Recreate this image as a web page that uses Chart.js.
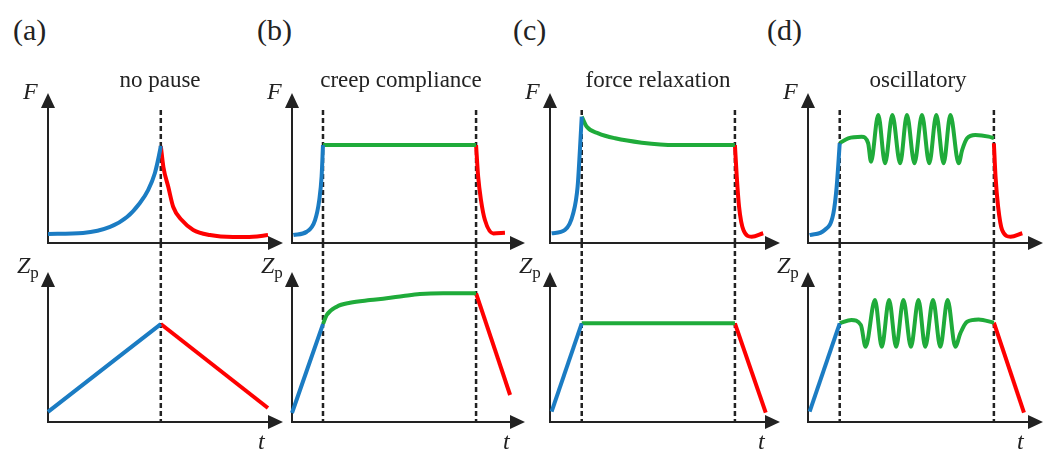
<!DOCTYPE html>
<html lang="en">
<head>
  <meta charset="UTF-8">
  <title>Force and indentation protocols</title>
  <style>
    body {
      margin: 0;
      background: white;
    }
    #fig {
      position: relative;
      width: 1051px;
      height: 451px;
      font-family: "Liberation Serif", serif;
      color: #222;
      overflow: hidden;
    }
    canvas {
      position: absolute;
    }
    .lbl {
      position: absolute;
      white-space: nowrap;
      line-height: 1;
    }
  </style>
</head>
<body>
  <div id="fig"></div>

  <script src="https://cdn.jsdelivr.net/npm/chart.js"></script>
  <script>
    // (a) no pause  -- [t, value] pairs, t and values in arbitrary units 0..100
    const aForceUp = [[0, 6], [14.9, 6.7], [26.4, 10.7], [33.6, 17.3], [39.1, 26.7], [42.6, 35.3], [45.5, 46.7], [47.7, 62], [48, 64.7]];
    const aForceDown = [[48, 64.7], [49.1, 50.7], [51.2, 37.3], [53.3, 24], [56.9, 15.3], [61.8, 8.7], [68.9, 5.3], [78.7, 4], [87.2, 4.2], [93.6, 5.3]];
    const aZpUp = [[0, 6.7], [48, 65.3]];
    const aZpDown = [[48, 65.3], [93.6, 9.3]];
    const aSwitch = [48];

    // (b) creep compliance
    const bForceUp = [[0.6, 5.3], [6.3, 7.5], [9.9, 15.3], [11.7, 28.7], [12.7, 44.2], [13.3, 65.3]];
    const bForceHold = [[13.3, 65.3], [79, 65.3]];
    const bForceDown = [[79, 65.3], [79.9, 44.2], [81.1, 28.7], [82.8, 15.3], [86.4, 6.4], [91.4, 6.8]];
    const bZpUp = [[0, 6], [13.3, 65.3]];
    const bZpHold = [[13.3, 65.3], [14.9, 71.3], [19.2, 76.9], [24.9, 79.5], [33.5, 81.3], [40.6, 82.5], [47.8, 84], [54.9, 85.3], [64.9, 85.8], [79, 85.8]];
    const bZpDown = [[79, 85.8], [93.6, 18]];
    const bSwitch = [13.3, 79];

    // (c) force relaxation
    const cForceUp = [[0.7, 6.5], [6.5, 8.7], [10.1, 19.8], [12, 37.5], [13, 62], [13.8, 84.2]];
    const cForceHold = [[13.8, 84.2], [16, 77.5], [21, 73.1], [28.3, 69.8], [39.9, 66.9], [54.3, 65.3], [80.4, 65.3]];
    const cForceDown = [[80.4, 65.3], [81.2, 44.2], [82.2, 24.2], [84.1, 8.7], [87.7, 4.2], [92.7, 6.5]];
    const cZpUp = [[0.7, 6.9], [13.8, 65.8]];
    const cZpHold = [[13.8, 65.8], [80.4, 65.8]];
    const cZpDown = [[80.4, 65.8], [93.8, 6.2]];
    const cSwitch = [13.8, 80.4];

    // (d) oscillatory
    const dForceUp = [[0.7, 5.3], [7.1, 8.7], [10.8, 19.8], [12.2, 37.5], [13.5, 66.5]];
    const dForceHold = [[13.5, 66.5], [17.1, 69.8], [22.8, 70.9], [25.6, 66.5], [26.8, 54.2], [29.9, 85.3], [32.8, 53.1], [35.9, 85.3], [39.2, 53.1], [42.1, 85.3], [45.3, 53.1], [48.5, 85.3], [51.6, 53.1], [54.6, 85.3], [57.7, 53.1], [60.6, 85.3], [64.1, 53.1], [65.6, 62], [67.7, 69.8], [71.2, 72], [76.9, 70.9], [79.1, 69.8]];
    const dForceDown = [[79.1, 66.5], [79.8, 44.2], [80.9, 24.2], [82.6, 8.7], [86.2, 4.2], [91.2, 6.5]];
    const dZpUp = [[0.7, 6.9], [13.5, 65.8]];
    const dZpHold = [[13.5, 65.8], [18.5, 68], [22.5, 64.7], [24.5, 50.2], [28.5, 81.3], [31.4, 50.2], [34.5, 81.3], [37.5, 50.2], [40.6, 81.3], [43.8, 50.2], [47, 81.3], [49.9, 50.2], [53.2, 81.3], [56.3, 50.2], [59.4, 81.3], [62.7, 50.2], [64.8, 59.1], [67.7, 66.9], [72.6, 68.4], [79.1, 66.2]];
    const dZpDown = [[79.1, 66.2], [91.9, 6.2]];
    const dSwitch = [13.5, 79.1];

    const panelLabels = ['(a)', '(b)', '(c)', '(d)'];
    const panelTitles = ['no pause', 'creep compliance', 'force relaxation', 'oscillatory'];

    const BLUE = '#1b7cc3', GREEN = '#1fab3a', RED = '#fe0000', INK = '#222';

    // page layout (pixels)
    const cols = [
      { x0: 48, x1: 283, labelX: 13, titleX: 160, tX: 258 },
      { x0: 292, x1: 525, labelX: 257, titleX: 401, tX: 503 },
      { x0: 550, x1: 780, labelX: 513, titleX: 658, tX: 758 },
      { x0: 808, x1: 1043, labelX: 767, titleX: 918, tX: 1017 }
    ];
    const rows = [{ top: 93, bottom: 243, dashTop: 88.7 }, { top: 272, bottom: 422, dashTop: 119.3 }];

    const forceSeries = [
      [aForceUp, null, aForceDown],
      [bForceUp, bForceHold, bForceDown],
      [cForceUp, cForceHold, cForceDown],
      [dForceUp, dForceHold, dForceDown]
    ];
    const zpSeries = [
      [aZpUp, null, aZpDown],
      [bZpUp, bZpHold, bZpDown],
      [cZpUp, cZpHold, cZpDown],
      [dZpUp, dZpHold, dZpDown]
    ];
    const switches = [aSwitch, bSwitch, cSwitch, dSwitch];

    // axes with arrow heads
    const axisArrows = {
      id: 'axisArrows',
      beforeDatasetsDraw(chart) {
        const ctx = chart.ctx;
        const a = chart.chartArea;
        ctx.save();
        ctx.strokeStyle = INK;
        ctx.fillStyle = INK;
        ctx.lineWidth = 2;
        ctx.beginPath();
        ctx.moveTo(a.left, a.top + 12);
        ctx.lineTo(a.left, a.bottom);
        ctx.lineTo(a.right - 12, a.bottom);
        ctx.stroke();
        ctx.beginPath();
        ctx.moveTo(a.left, a.top);
        ctx.lineTo(a.left - 7, a.top + 15);
        ctx.lineTo(a.left + 7, a.top + 15);
        ctx.closePath();
        ctx.fill();
        ctx.beginPath();
        ctx.moveTo(a.right, a.bottom);
        ctx.lineTo(a.right - 15, a.bottom - 7);
        ctx.lineTo(a.right - 15, a.bottom + 7);
        ctx.closePath();
        ctx.fill();
        ctx.restore();
      }
    };

    const fig = document.getElementById('fig');

    function addText(html, left, baseline, size, center, italic) {
      const d = document.createElement('div');
      d.className = 'lbl';
      d.innerHTML = html;
      d.style.fontSize = size + 'px';
      d.style.left = left + 'px';
      d.style.top = (baseline - 0.8375 * size) + 'px';
      if (center) d.style.transform = 'translateX(-50%)';
      if (italic) d.style.fontStyle = 'italic';
      fig.appendChild(d);
    }

    function makeChart(col, row, series, sw) {
      const padL = 20, padR = 10, padT = 32, padB = 10;
      const c = document.createElement('canvas');
      const w = col.x1 - col.x0 + padL + padR;
      const h = row.bottom - row.top + padT + padB;
      c.width = w;
      c.height = h;
      c.style.width = w + 'px';
      c.style.height = h + 'px';
      c.style.left = (col.x0 - padL) + 'px';
      c.style.top = (row.top - padT) + 'px';
      fig.appendChild(c);

      const colors = [BLUE, GREEN, RED];
      const datasets = [];
      series.forEach((s, i) => {
        if (!s) return;
        datasets.push({
          data: s.map(([x, y]) => ({ x, y })),
          borderColor: colors[i],
          borderWidth: 4,
          pointRadius: 0,
          showLine: true,
          cubicInterpolationMode: 'monotone',
          clip: false,
          order: 1
        });
      });
      sw.forEach(t => {
        datasets.push({
          data: [{ x: t, y: row.dashTop }, { x: t, y: 0 }],
          borderColor: INK,
          borderWidth: 2.5,
          borderDash: [5, 3],
          pointRadius: 0,
          showLine: true,
          clip: false,
          order: 5
        });
      });

      new Chart(c, {
        type: 'scatter',
        data: { datasets },
        options: {
          responsive: false,
          animation: false,
          events: [],
          layout: { padding: { left: padL, right: padR, top: padT, bottom: padB } },
          plugins: { legend: { display: false }, tooltip: { enabled: false } },
          scales: {
            x: { type: 'linear', min: 0, max: 100, display: false },
            y: { type: 'linear', min: 0, max: 100, display: false }
          }
        },
        plugins: [axisArrows]
      });
    }

    cols.forEach((col, i) => {
      makeChart(col, rows[0], forceSeries[i], switches[i]);
      makeChart(col, rows[1], zpSeries[i], switches[i]);

      addText(panelLabels[i], col.labelX, 40, 30, false, false);
      addText(panelTitles[i], col.titleX, 87, 23, true, false);
      addText('F', col.x0 - 25, 99, 24, false, true);
      addText('<i>Z</i><span style="font-size:17px;position:relative;top:5px;font-style:normal">p</span>', col.x0 - 31, 273, 24, false, false);
      addText('t', col.tX, 449, 24, false, true);
    });
  </script>
</body>
</html>
